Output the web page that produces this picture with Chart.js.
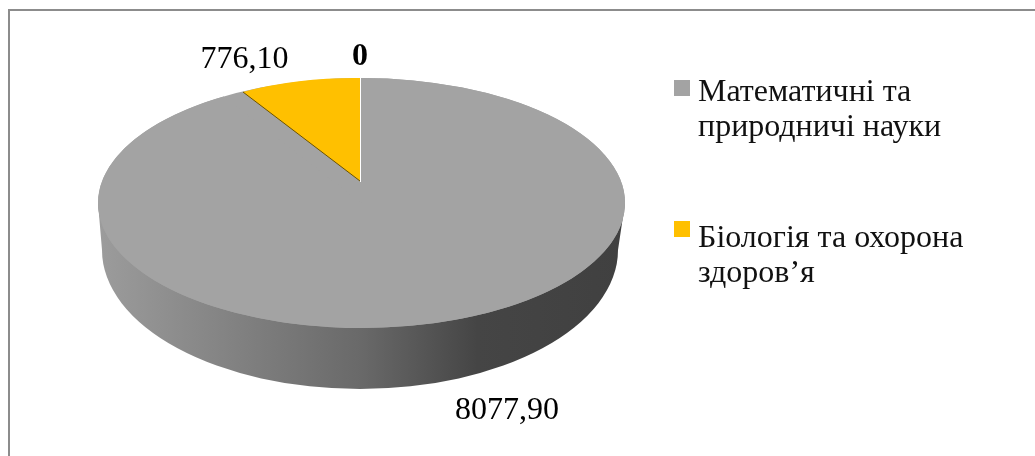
<!DOCTYPE html>
<html>
<head>
<meta charset="utf-8">
<style>
  html, body { margin: 0; padding: 0; background: #fff; }
  #wrap { position: relative; width: 1035px; height: 456px; overflow: hidden; }
</style>
<script src="https://cdn.jsdelivr.net/npm/chart.js@4/dist/chart.umd.min.js"></script>
</head>
<body>
<div id="wrap"><canvas id="chart" width="1035" height="456"></canvas></div>
<script>
const categories = ["Математичні та природничі науки", "Біологія та охорона здоров’я", ""];
const legendLines = [["Математичні та", "природничі науки"], ["Біологія та охорона", "здоров’я"]];
const values = [8077.9, 776.1, 0];
const valueLabels = ["8077,90", "776,10", "0"];
const colors = ["#A3A3A3", "#FFC000", "#A3A3A3"];

const serif = '"Liberation Serif", "Times New Roman", serif';

// the disc as it looks on the page: Chart.js lays out a round pie, we squash it
const top3d = { cx: 361.5, cy: 203, rx: 263.5, ry: 125 };
const wall = { cx: 360, cy: 250, rx: 258, ry: 139 };
const apex = { x: 360, y: 181 };

const pie3d = {
  id: "pie3d",
  beforeDraw(chart) {
    // frame is cut off on the right and at the bottom
    const ctx = chart.ctx;
    ctx.save();
    ctx.strokeStyle = "#8C8C8C";
    ctx.lineWidth = 2;
    ctx.beginPath();
    ctx.moveTo(9, 456);
    ctx.lineTo(9, 10);
    ctx.lineTo(1035, 10);
    ctx.stroke();
    ctx.restore();
  },
  beforeDatasetsDraw(chart) {
    const ctx = chart.ctx;
    const grey = chart.getDatasetMeta(0).data[0];
    const R = grey.outerRadius;

    // side wall
    const g = ctx.createLinearGradient(98, 0, 625, 0);
    g.addColorStop(0, "#9C9C9C");
    g.addColorStop(0.5, "#696969");
    g.addColorStop(0.72, "#454545");
    g.addColorStop(1, "#404040");
    ctx.save();
    ctx.fillStyle = g;
    ctx.beginPath();
    ctx.moveTo(top3d.cx - top3d.rx, top3d.cy);
    ctx.lineTo(wall.cx - wall.rx, wall.cy);
    ctx.ellipse(wall.cx, wall.cy, wall.rx, wall.ry, 0, Math.PI, 0, true);
    ctx.lineTo(top3d.cx + top3d.rx, top3d.cy);
    ctx.closePath();
    ctx.fill();

    // top face under the slices
    ctx.fillStyle = colors[0];
    ctx.beginPath();
    ctx.ellipse(top3d.cx, top3d.cy, top3d.rx, top3d.ry, 0, 0, Math.PI * 2);
    ctx.fill();
    ctx.restore();

    // every slice goes through the same squash, the small one has its tip higher up
    chart.getDatasetMeta(0).data.forEach((arc, i) => {
      if (arc.$tilted) return;
      arc.$tilted = true;
      const draw = arc.draw;
      arc.draw = function (c) {
        c.save();
        if (i === 1) {
          c.translate(apex.x, apex.y);
          c.transform(224 / R, 2.3 / R, 0, 103 / R, 0, 0);
        } else {
          c.translate(top3d.cx, top3d.cy);
          c.scale(top3d.rx / R, top3d.ry / R);
        }
        c.translate(-arc.x, -arc.y);
        draw.call(arc, c);
        c.restore();
      };
    });
  },
  afterDatasetsDraw(chart) {
    const ctx = chart.ctx;
    ctx.save();
    // slice edges
    ctx.lineWidth = 1;
    ctx.strokeStyle = "#6B5200";
    ctx.beginPath();
    ctx.moveTo(apex.x, apex.y);
    ctx.lineTo(243, 92);
    ctx.stroke();
    ctx.strokeStyle = "#FFFFFF";
    ctx.beginPath();
    ctx.moveTo(360.5, 78);
    ctx.lineTo(360.5, 182);
    ctx.stroke();

    // value labels
    ctx.fillStyle = "#000000";
    ctx.textBaseline = "alphabetic";
    ctx.textAlign = "center";
    ctx.font = "32px " + serif;
    ctx.fillText(valueLabels[0], 507, 419);
    ctx.fillText(valueLabels[1], 244.5, 68);
    ctx.font = "bold 32px " + serif;
    ctx.fillText(valueLabels[2], 360, 65);

    // legend, two wrapped lines per entry
    const entries = [{ box: 80, text: 101 }, { box: 221, text: 247 }];
    ctx.textAlign = "left";
    entries.forEach((e, i) => {
      ctx.fillStyle = colors[i];
      ctx.fillRect(674, e.box, 16, 16);
      ctx.fillStyle = "#111111";
      ctx.font = "32px " + serif;
      legendLines[i].forEach((line, j) => ctx.fillText(line, 698, e.text + j * 35));
    });
    ctx.restore();
  },
};

new Chart(document.getElementById("chart"), {
  type: "pie",
  data: {
    labels: categories,
    datasets: [{ data: values, backgroundColor: colors, borderWidth: 0 }],
  },
  options: {
    responsive: false,
    animation: false,
    rotation: 0,
    circumference: 360,
    layout: { padding: { left: 100, right: 400, top: 20, bottom: 20 } },
    plugins: { legend: { display: false }, tooltip: { enabled: false } },
  },
  plugins: [pie3d],
});
</script>
</body>
</html>
